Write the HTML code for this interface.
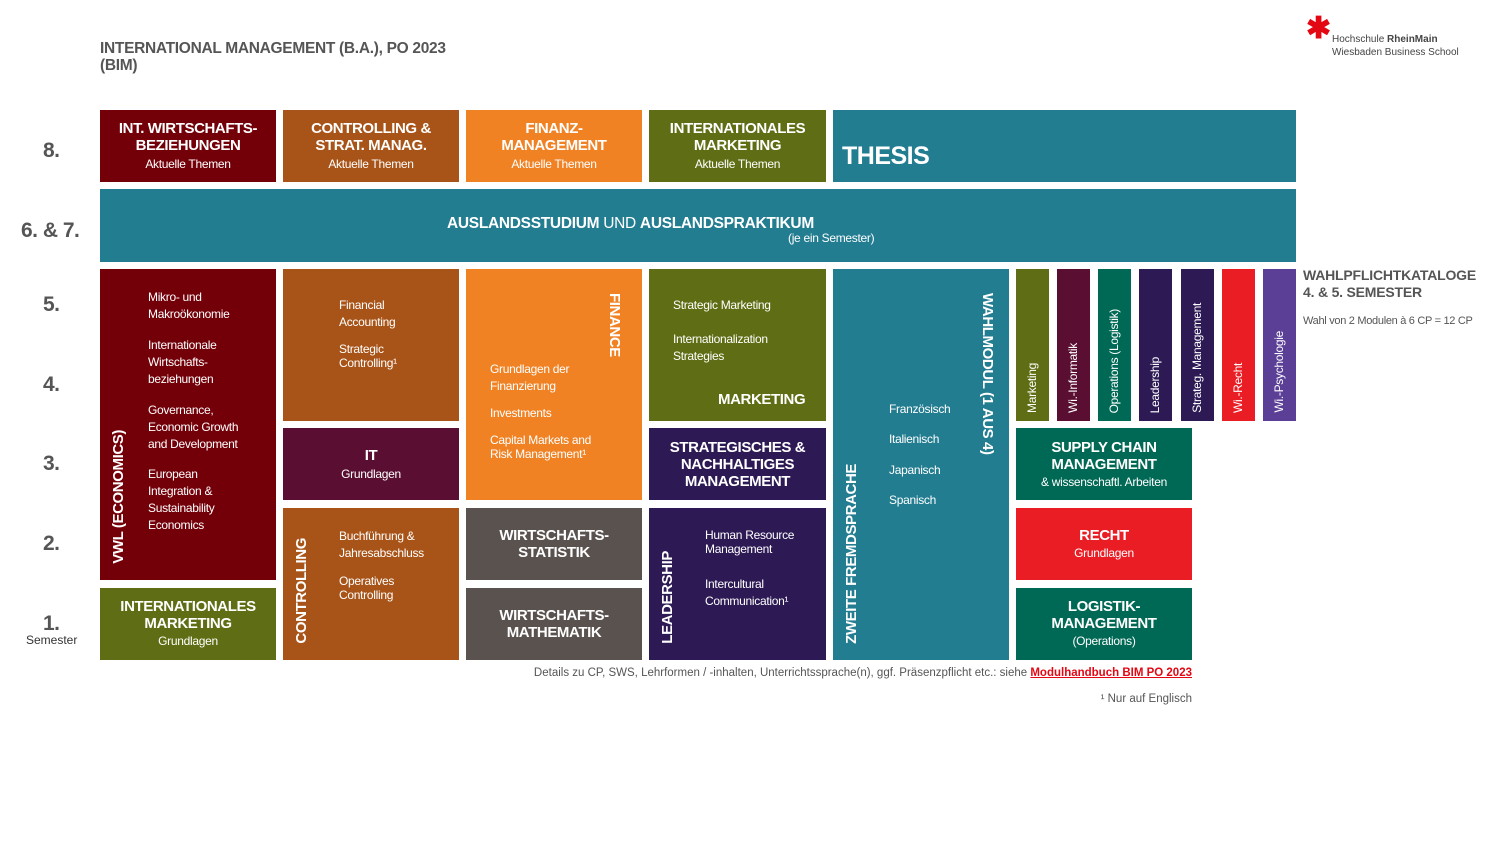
<!DOCTYPE html>
<html><head><meta charset="utf-8"><style>
*{margin:0;padding:0;box-sizing:border-box}
body{width:1499px;height:843px;background:#fff;position:relative;overflow:hidden;font-family:"Liberation Sans",sans-serif;color:#fff}
.b{position:absolute}
.t{position:absolute;white-space:nowrap}
.h{font-weight:bold;font-size:15px;line-height:17px;letter-spacing:-0.4px}
.s{font-size:12px;line-height:17px;letter-spacing:-0.3px}
.c{text-align:center}
.up{writing-mode:vertical-rl;transform:rotate(180deg)}
.dn{writing-mode:vertical-rl}
.sem{position:absolute;color:#555;font-weight:bold;font-size:21px;letter-spacing:-0.5px}
.mr{background:#730008}.br{background:#a85418}.or{background:#f08224}.ol{background:#5f6e14}.te{background:#237d91}
.pu{background:#5a0f32}.nv{background:#2d1a55}.gr{background:#5a524f}.gn{background:#006955}.rd{background:#ea1c24}.vi{background:#5b3f96}
</style></head><body>
<div class="t" style="left:100px;top:40px;color:#555;font-weight:bold;font-size:15.5px;line-height:17px;letter-spacing:-0.3px">INTERNATIONAL MANAGEMENT (B.A.), PO 2023<br>(BIM)</div>
<div class="t" style="left:1306px;top:14px;color:#e30613;font-size:30px;font-weight:bold;line-height:30px">✱</div>
<div class="t" style="left:1332px;top:33px;color:#444;font-size:10px;line-height:13px">Hochschule <b>RheinMain</b><br>Wiesbaden Business School</div>

<div class="sem" style="left:43px;top:139px">8.</div>
<div class="sem" style="left:21px;top:219px">6. &amp; 7.</div>
<div class="sem" style="left:43px;top:293px">5.</div>
<div class="sem" style="left:43px;top:373px">4.</div>
<div class="sem" style="left:43px;top:452px">3.</div>
<div class="sem" style="left:43px;top:532px">2.</div>
<div class="sem" style="left:43px;top:612px">1.</div>
<div class="t" style="left:26px;top:633px;color:#333;font-size:12px">Semester</div>

<div class="b mr" style="left:100px;top:110px;width:176px;height:72px"><div class="t h c" style="left:0;right:0;top:10px">INT. WIRTSCHAFTS-<br>BEZIEHUNGEN</div><div class="t s c" style="left:0;right:0;top:46px">Aktuelle Themen</div></div>
<div class="b br" style="left:283px;top:110px;width:176px;height:72px"><div class="t h c" style="left:0;right:0;top:10px">CONTROLLING &amp;<br>STRAT. MANAG.</div><div class="t s c" style="left:0;right:0;top:46px">Aktuelle Themen</div></div>
<div class="b or" style="left:466px;top:110px;width:176px;height:72px"><div class="t h c" style="left:0;right:0;top:10px">FINANZ-<br>MANAGEMENT</div><div class="t s c" style="left:0;right:0;top:46px">Aktuelle Themen</div></div>
<div class="b ol" style="left:649px;top:110px;width:177px;height:72px"><div class="t h c" style="left:0;right:0;top:10px">INTERNATIONALES<br>MARKETING</div><div class="t s c" style="left:0;right:0;top:46px">Aktuelle Themen</div></div>
<div class="b te" style="left:833px;top:110px;width:463px;height:72px"><div class="t" style="left:9px;top:32px;font-weight:bold;font-size:25px;letter-spacing:-0.5px">THESIS</div></div>

<div class="b te" style="left:100px;top:189px;width:1196px;height:73px"><div class="t" style="left:347px;top:26px;font-size:15.5px;letter-spacing:-0.3px"><b>AUSLANDSSTUDIUM</b> UND <b>AUSLANDSPRAKTIKUM</b></div><div class="t s" style="left:688px;top:41px">(je ein Semester)</div></div>

<div class="b mr" style="left:100px;top:269px;width:176px;height:311px">
<div class="t s" style="left:48px;top:20px">Mikro- und<br>Makroökonomie</div>
<div class="t s" style="left:48px;top:68px">Internationale<br>Wirtschafts-<br>beziehungen</div>
<div class="t s" style="left:48px;top:133px">Governance,<br>Economic Growth<br>and Development</div>
<div class="t s" style="left:48px;top:197px">European<br>Integration &amp;<br>Sustainability<br>Economics</div>
<div class="t h up" style="left:10px;bottom:16px">VWL (ECONOMICS)</div>
</div>
<div class="b ol" style="left:100px;top:588px;width:176px;height:72px"><div class="t h c" style="left:0;right:0;top:10px">INTERNATIONALES<br>MARKETING</div><div class="t s c" style="left:0;right:0;top:45px">Grundlagen</div></div>

<div class="b br" style="left:283px;top:269px;width:176px;height:152px"><div class="t s" style="left:56px;top:28px">Financial<br>Accounting</div><div class="t s" style="left:56px;top:73px;line-height:14px">Strategic<br>Controlling¹</div></div>
<div class="b pu" style="left:283px;top:428px;width:176px;height:72px"><div class="t h c" style="left:0;right:0;top:19px">IT</div><div class="t s c" style="left:0;right:0;top:38px">Grundlagen</div></div>
<div class="b br" style="left:283px;top:508px;width:176px;height:152px"><div class="t s" style="left:56px;top:20px">Buchführung &amp;<br>Jahresabschluss</div><div class="t s" style="left:56px;top:66px;line-height:14px">Operatives<br>Controlling</div><div class="t h up" style="left:10px;bottom:16px">CONTROLLING</div></div>

<div class="b or" style="left:466px;top:269px;width:176px;height:231px"><div class="t s" style="left:24px;top:92px">Grundlagen der<br>Finanzierung</div><div class="t s" style="left:24px;top:136px">Investments</div><div class="t s" style="left:24px;top:164px;line-height:14px">Capital Markets and<br>Risk Management¹</div><div class="t h dn" style="left:140px;top:24px">FINANCE</div></div>
<div class="b gr" style="left:466px;top:508px;width:176px;height:72px"><div class="t h c" style="left:0;right:0;top:19px">WIRTSCHAFTS-<br>STATISTIK</div></div>
<div class="b gr" style="left:466px;top:588px;width:176px;height:72px"><div class="t h c" style="left:0;right:0;top:19px">WIRTSCHAFTS-<br>MATHEMATIK</div></div>

<div class="b ol" style="left:649px;top:269px;width:177px;height:152px"><div class="t s" style="left:24px;top:28px">Strategic Marketing</div><div class="t s" style="left:24px;top:62px">Internationalization<br>Strategies</div><div class="t h" style="left:69px;top:122px">MARKETING</div></div>
<div class="b nv" style="left:649px;top:428px;width:177px;height:72px"><div class="t h c" style="left:0;right:0;top:11px">STRATEGISCHES &amp;<br>NACHHALTIGES<br>MANAGEMENT</div></div>
<div class="b nv" style="left:649px;top:508px;width:177px;height:152px"><div class="t s" style="left:56px;top:20px;line-height:14px">Human Resource<br>Management</div><div class="t s" style="left:56px;top:68px">Intercultural<br>Communication¹</div><div class="t h up" style="left:10px;bottom:16px">LEADERSHIP</div></div>

<div class="b te" style="left:833px;top:269px;width:176px;height:391px">
<div class="t h up" style="left:10px;bottom:16px">ZWEITE FREMDSPRACHE</div>
<div class="t h dn" style="left:146px;top:24px">WAHLMODUL (1 AUS 4)</div>
<div class="t s" style="left:56px;top:132px">Französisch</div>
<div class="t s" style="left:56px;top:162px">Italienisch</div>
<div class="t s" style="left:56px;top:193px">Japanisch</div>
<div class="t s" style="left:56px;top:223px">Spanisch</div>
</div>

<div class="b ol" style="left:1016px;top:269px;width:33px;height:152px"><div class="t s up" style="left:8px;bottom:8px">Marketing</div></div>
<div class="b pu" style="left:1057px;top:269px;width:33px;height:152px"><div class="t s up" style="left:8px;bottom:8px">Wi.-Informatik</div></div>
<div class="b gn" style="left:1098px;top:269px;width:33px;height:152px"><div class="t s up" style="left:8px;bottom:8px">Operations (Logistik)</div></div>
<div class="b nv" style="left:1139px;top:269px;width:33px;height:152px"><div class="t s up" style="left:8px;bottom:8px">Leadership</div></div>
<div class="b nv" style="left:1181px;top:269px;width:33px;height:152px"><div class="t s up" style="left:8px;bottom:8px">Strateg. Management</div></div>
<div class="b rd" style="left:1222px;top:269px;width:33px;height:152px"><div class="t s up" style="left:8px;bottom:8px">Wi.-Recht</div></div>
<div class="b vi" style="left:1263px;top:269px;width:33px;height:152px"><div class="t s up" style="left:8px;bottom:8px">Wi.-Psychologie</div></div>
<div class="t" style="left:1303px;top:267px;color:#555;font-weight:bold;font-size:14px;line-height:17px;letter-spacing:-0.2px">WAHLPFLICHTKATALOGE<br>4. &amp; 5. SEMESTER</div>
<div class="t" style="left:1303px;top:315px;color:#555;font-size:11px;letter-spacing:-0.3px">Wahl von 2 Modulen à 6 CP = 12 CP</div>

<div class="b gn" style="left:1016px;top:428px;width:176px;height:72px"><div class="t h c" style="left:0;right:0;top:11px">SUPPLY CHAIN<br>MANAGEMENT</div><div class="t s c" style="left:0;right:0;top:46px">&amp; wissenschaftl. Arbeiten</div></div>
<div class="b rd" style="left:1016px;top:508px;width:176px;height:72px"><div class="t h c" style="left:0;right:0;top:19px">RECHT</div><div class="t s c" style="left:0;right:0;top:37px">Grundlagen</div></div>
<div class="b gn" style="left:1016px;top:588px;width:176px;height:72px"><div class="t h c" style="left:0;right:0;top:10px">LOGISTIK-<br>MANAGEMENT</div><div class="t s c" style="left:0;right:0;top:45px">(Operations)</div></div>

<div class="t" style="right:307px;top:667px;color:#555;font-size:11.5px">Details zu CP, SWS, Lehrformen / -inhalten, Unterrichtssprache(n), ggf. Präsenzpflicht etc.: siehe <b style="color:#e30613;text-decoration:underline">Modulhandbuch BIM PO 2023</b></div>
<div class="t" style="right:307px;top:693px;color:#555;font-size:11.5px">¹ Nur auf Englisch</div>
</body></html>
